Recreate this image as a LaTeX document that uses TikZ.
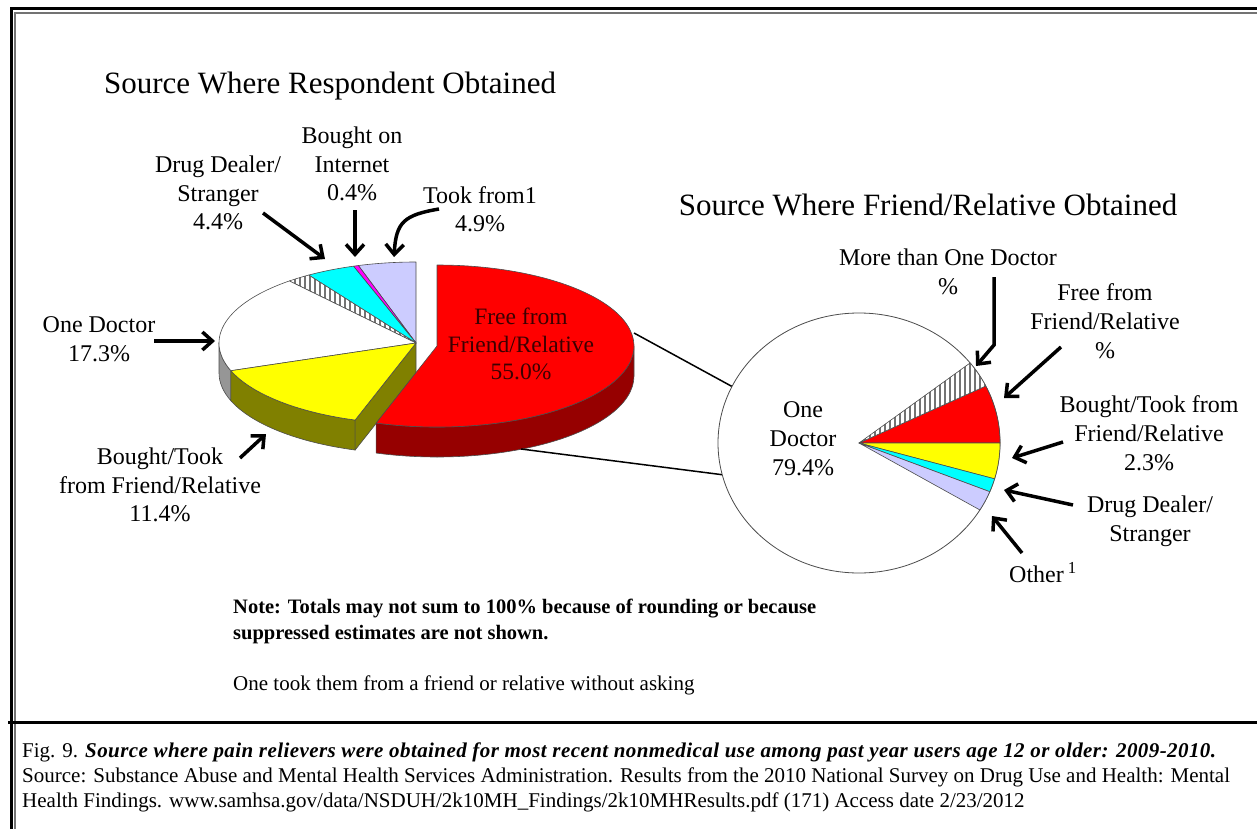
\documentclass[tikz,border=0pt]{standalone}
\usepackage{fontspec}
\setmainfont{Liberation Serif}
\usetikzlibrary{arrows.meta,patterns.meta,shapes.geometric}
\definecolor{lilac}{RGB}{204,204,255}
\definecolor{piecyan}{RGB}{0,255,255}
\definecolor{piepink}{RGB}{255,0,255}
\definecolor{pieyellow}{RGB}{255,255,0}
\definecolor{piered}{RGB}{255,0,0}
\definecolor{oliveside}{RGB}{128,128,0}
\definecolor{redside}{RGB}{150,0,0}
\definecolor{whiteside}{RGB}{150,150,150}
\definecolor{labelred}{RGB}{60,0,0}
\newcommand\titlesize{\fontsize{31pt}{36pt}\selectfont}
\newcommand\leftsize{\fontsize{24pt}{28.5pt}\selectfont}
\newcommand\rightsize{\fontsize{24pt}{29pt}\selectfont}
\newcommand\notesize{\fontsize{20.5pt}{26pt}\selectfont}
\newcommand\capsize{\fontsize{21pt}{25pt}\selectfont}

\begin{document}
\begin{tikzpicture}[x=1pt, y=-1pt, every node/.style={font=\leftsize, align=center, inner sep=0pt},
  pointer/.style={line width=3.5pt, -{Straight Barb[length=10pt,width=18pt,line width=3.5pt]}},
  wedge/.style={draw=black!70, line width=0.6pt, line join=round},
  hatch/.style={wedge, preaction={fill=white}, pattern={Lines[angle=90,distance=5pt,line width=1.3pt]}, pattern color=black!55}]
  \useasboundingbox (0,0) rectangle (1257,829);
  % frame
  \draw[line width=3pt] (11,829) -- (11,9) -- (1257,9);
  \draw[line width=1.2pt, black!55] (15,829) -- (15,13) -- (1257,13);
  \draw[line width=3pt] (8,722) -- (1257,722);

  % left pie
  \begin{scope}[shift={(416,343)}, yscale=-1]
    \filldraw[wedge, fill=whiteside] (180:197 and 81) arc[start angle=180, end angle=200, x radius=197, y radius=81] -- ++(0,-30) arc[start angle=200, end angle=180, x radius=197, y radius=81] -- cycle;
    \filldraw[wedge, fill=oliveside] (200:197 and 81) arc[start angle=200, end angle=252, x radius=197, y radius=81] -- ++(0,-30) arc[start angle=252, end angle=200, x radius=197, y radius=81] -- cycle;
    \filldraw[wedge, fill=oliveside] (0,0) -- (252:197 and 81) -- ++(0,-30) -- (0,-30) -- cycle;
    \filldraw[wedge, fill=lilac] (0,0) -- (90:197 and 81) arc[start angle=90, end angle=107, x radius=197, y radius=81] -- cycle;
    \filldraw[wedge, fill=piepink] (0,0) -- (107:197 and 81) arc[start angle=107, end angle=108.5, x radius=197, y radius=81] -- cycle;
    \filldraw[wedge, fill=piecyan] (0,0) -- (108.5:197 and 81) arc[start angle=108.5, end angle=123, x radius=197, y radius=81] -- cycle;
    \filldraw[hatch] (0,0) -- (123:197 and 81) arc[start angle=123, end angle=130, x radius=197, y radius=81] -- cycle;
    \filldraw[wedge, fill=white] (0,0) -- (130:197 and 81) arc[start angle=130, end angle=200, x radius=197, y radius=81] -- cycle;
    \filldraw[wedge, fill=pieyellow] (0,0) -- (200:197 and 81) arc[start angle=200, end angle=252, x radius=197, y radius=81] -- cycle;
  \end{scope}
  \begin{scope}[shift={(437,346)}, yscale=-1]
    \filldraw[wedge, fill=redside] (252:197 and 81) arc[start angle=252, end angle=360, x radius=197, y radius=81] -- ++(0,-30) arc[start angle=360, end angle=252, x radius=197, y radius=81] -- cycle;
    \filldraw[wedge, fill=piered] (0,0) -- (-108:197 and 81) arc[start angle=-108, end angle=90, x radius=197, y radius=81] -- cycle;
  \end{scope}

  % right pie
  \node[ellipse, draw=black!70, line width=0.8pt, fill=white, minimum width=282pt, minimum height=260pt] (minor) at (859,443) {};
  \begin{scope}[shift={(859,443)}, yscale=-1]
    \filldraw[wedge, fill=piered] (0,0) -- (0:141 and 130) arc[start angle=0, end angle=26, x radius=141, y radius=130] -- cycle;
    \filldraw[hatch] (0,0) -- (26:141 and 130) arc[start angle=26, end angle=38, x radius=141, y radius=130] -- cycle;
    \filldraw[wedge, fill=pieyellow] (0,0) -- (-16:141 and 130) arc[start angle=-16, end angle=0, x radius=141, y radius=130] -- cycle;
    \filldraw[wedge, fill=piecyan] (0,0) -- (-22:141 and 130) arc[start angle=-22, end angle=-16, x radius=141, y radius=130] -- cycle;
    \filldraw[wedge, fill=lilac] (0,0) -- (-31:141 and 130) arc[start angle=-31, end angle=-22, x radius=141, y radius=130] -- cycle;
  \end{scope}
  \coordinate (redtop) at (634,333);
  \coordinate (redbot) at (521,449);
  \draw[line width=1.5pt] (redtop) -- (minor.156);
  \draw[line width=1.5pt] (redbot) -- (minor.193);

  % titles
  \node[font=\titlesize] (lttl) at (330,86) {Source Where Respondent Obtained};
  \node[font=\titlesize] (rttl) at (928,205) {Source Where Friend/Relative Obtained};

  % left labels
  \node (ldeal) at (218,193) {Drug Dealer/\\Stranger\\4.4\%};
  \node (lnet) at (352,164) {Bought on\\Internet\\0.4\%};
  \node (ltook) at (480,209) {Took from1\\4.9\%};
  \node (ldoc) at (99,339) {One Doctor\\17.3\%};
  \node (lbuy) at (160,485) {Bought/Took\\from Friend/Relative\\11.4\%};
  \node[text=labelred, font=\fontsize{23.5pt}{27.5pt}\selectfont] (lfree) at (521,344) {Free from\\Friend/Relative\\55.0\%};
  \coordinate (dealA) at (263,213); \coordinate (dealB) at (325,259);
  \coordinate (netA) at (355,210); \coordinate (netB) at (355,257);
  \coordinate (tookA) at (439,209); \coordinate (tookB) at (394,257);
  \coordinate (docA) at (154,341); \coordinate (docB) at (215,341);
  \coordinate (buyA) at (240,458); \coordinate (buyB) at (266,434);
  \draw[pointer] (dealA) -- (dealB);
  \draw[pointer] (netA) -- (netB);
  \draw[pointer] (tookA) .. controls (404,215) and (396,222) .. (tookB);
  \draw[pointer] (docA) -- (docB);
  \draw[pointer] (buyA) -- (buyB);

  % right labels
  \node[font=\rightsize] (rdoc) at (803,439) {One\\Doctor\\79.4\%};
  \node[font=\rightsize] (rmore) at (948,272) {More than One Doctor\\\%};
  \node[font=\rightsize] (rfree) at (1105,321) {Free from\\Friend/Relative\\\%};
  \node[font=\rightsize] (rbuy) at (1149,433) {Bought/Took from\\Friend/Relative\\2.3\%};
  \node[font=\rightsize] (rdeal) at (1150,521) {Drug Dealer/\\Stranger};
  \node[font=\rightsize] (rother) at (1043,573) {Other\,\textsuperscript{1}};
  \coordinate (moreA) at (994,277); \coordinate (moreC) at (994,345); \coordinate (moreB) at (976,366);
  \coordinate (freeA) at (1061,347); \coordinate (freeB) at (1004,398);
  \coordinate (buyrA) at (1063,442); \coordinate (buyrB) at (1012,458);
  \coordinate (dealrA) at (1073,505); \coordinate (dealrB) at (1004,490);
  \coordinate (otherA) at (1022,553); \coordinate (otherB) at (992,516);
  \draw[pointer] (moreA) -- (moreC) -- (moreB);
  \draw[pointer] (freeA) -- (freeB);
  \draw[pointer] (buyrA) -- (buyrB);
  \draw[pointer] (dealrA) -- (dealrB);
  \draw[pointer] (otherA) -- (otherB);

  % notes and caption
  \node[anchor=west, align=left, font=\notesize\bfseries] (note) at (233,621) {Note: Totals may not sum to 100\% because of rounding or because\\suppressed estimates are not shown.};
  \node[anchor=west, font=\fontsize{21pt}{26pt}\selectfont] (tooknote) at (233,685) {One took them from a friend or relative without asking};
  \node[anchor=west, align=left, font=\capsize] (cap) at (22,777) {Fig. 9. {\addfontfeature{LetterSpace=2}\textbf{\textit{Source where pain relievers were obtained for most recent nonmedical use among past year users age 12 or older: 2009-2010.}}}\\Source: Substance Abuse and Mental Health Services Administration. Results from the 2010 National Survey on Drug Use and Health: Mental\\Health Findings. www.samhsa.gov/data/NSDUH/2k10MH\_Findings/2k10MHResults.pdf (171) Access date 2/23/2012};
\end{tikzpicture}
\end{document}
